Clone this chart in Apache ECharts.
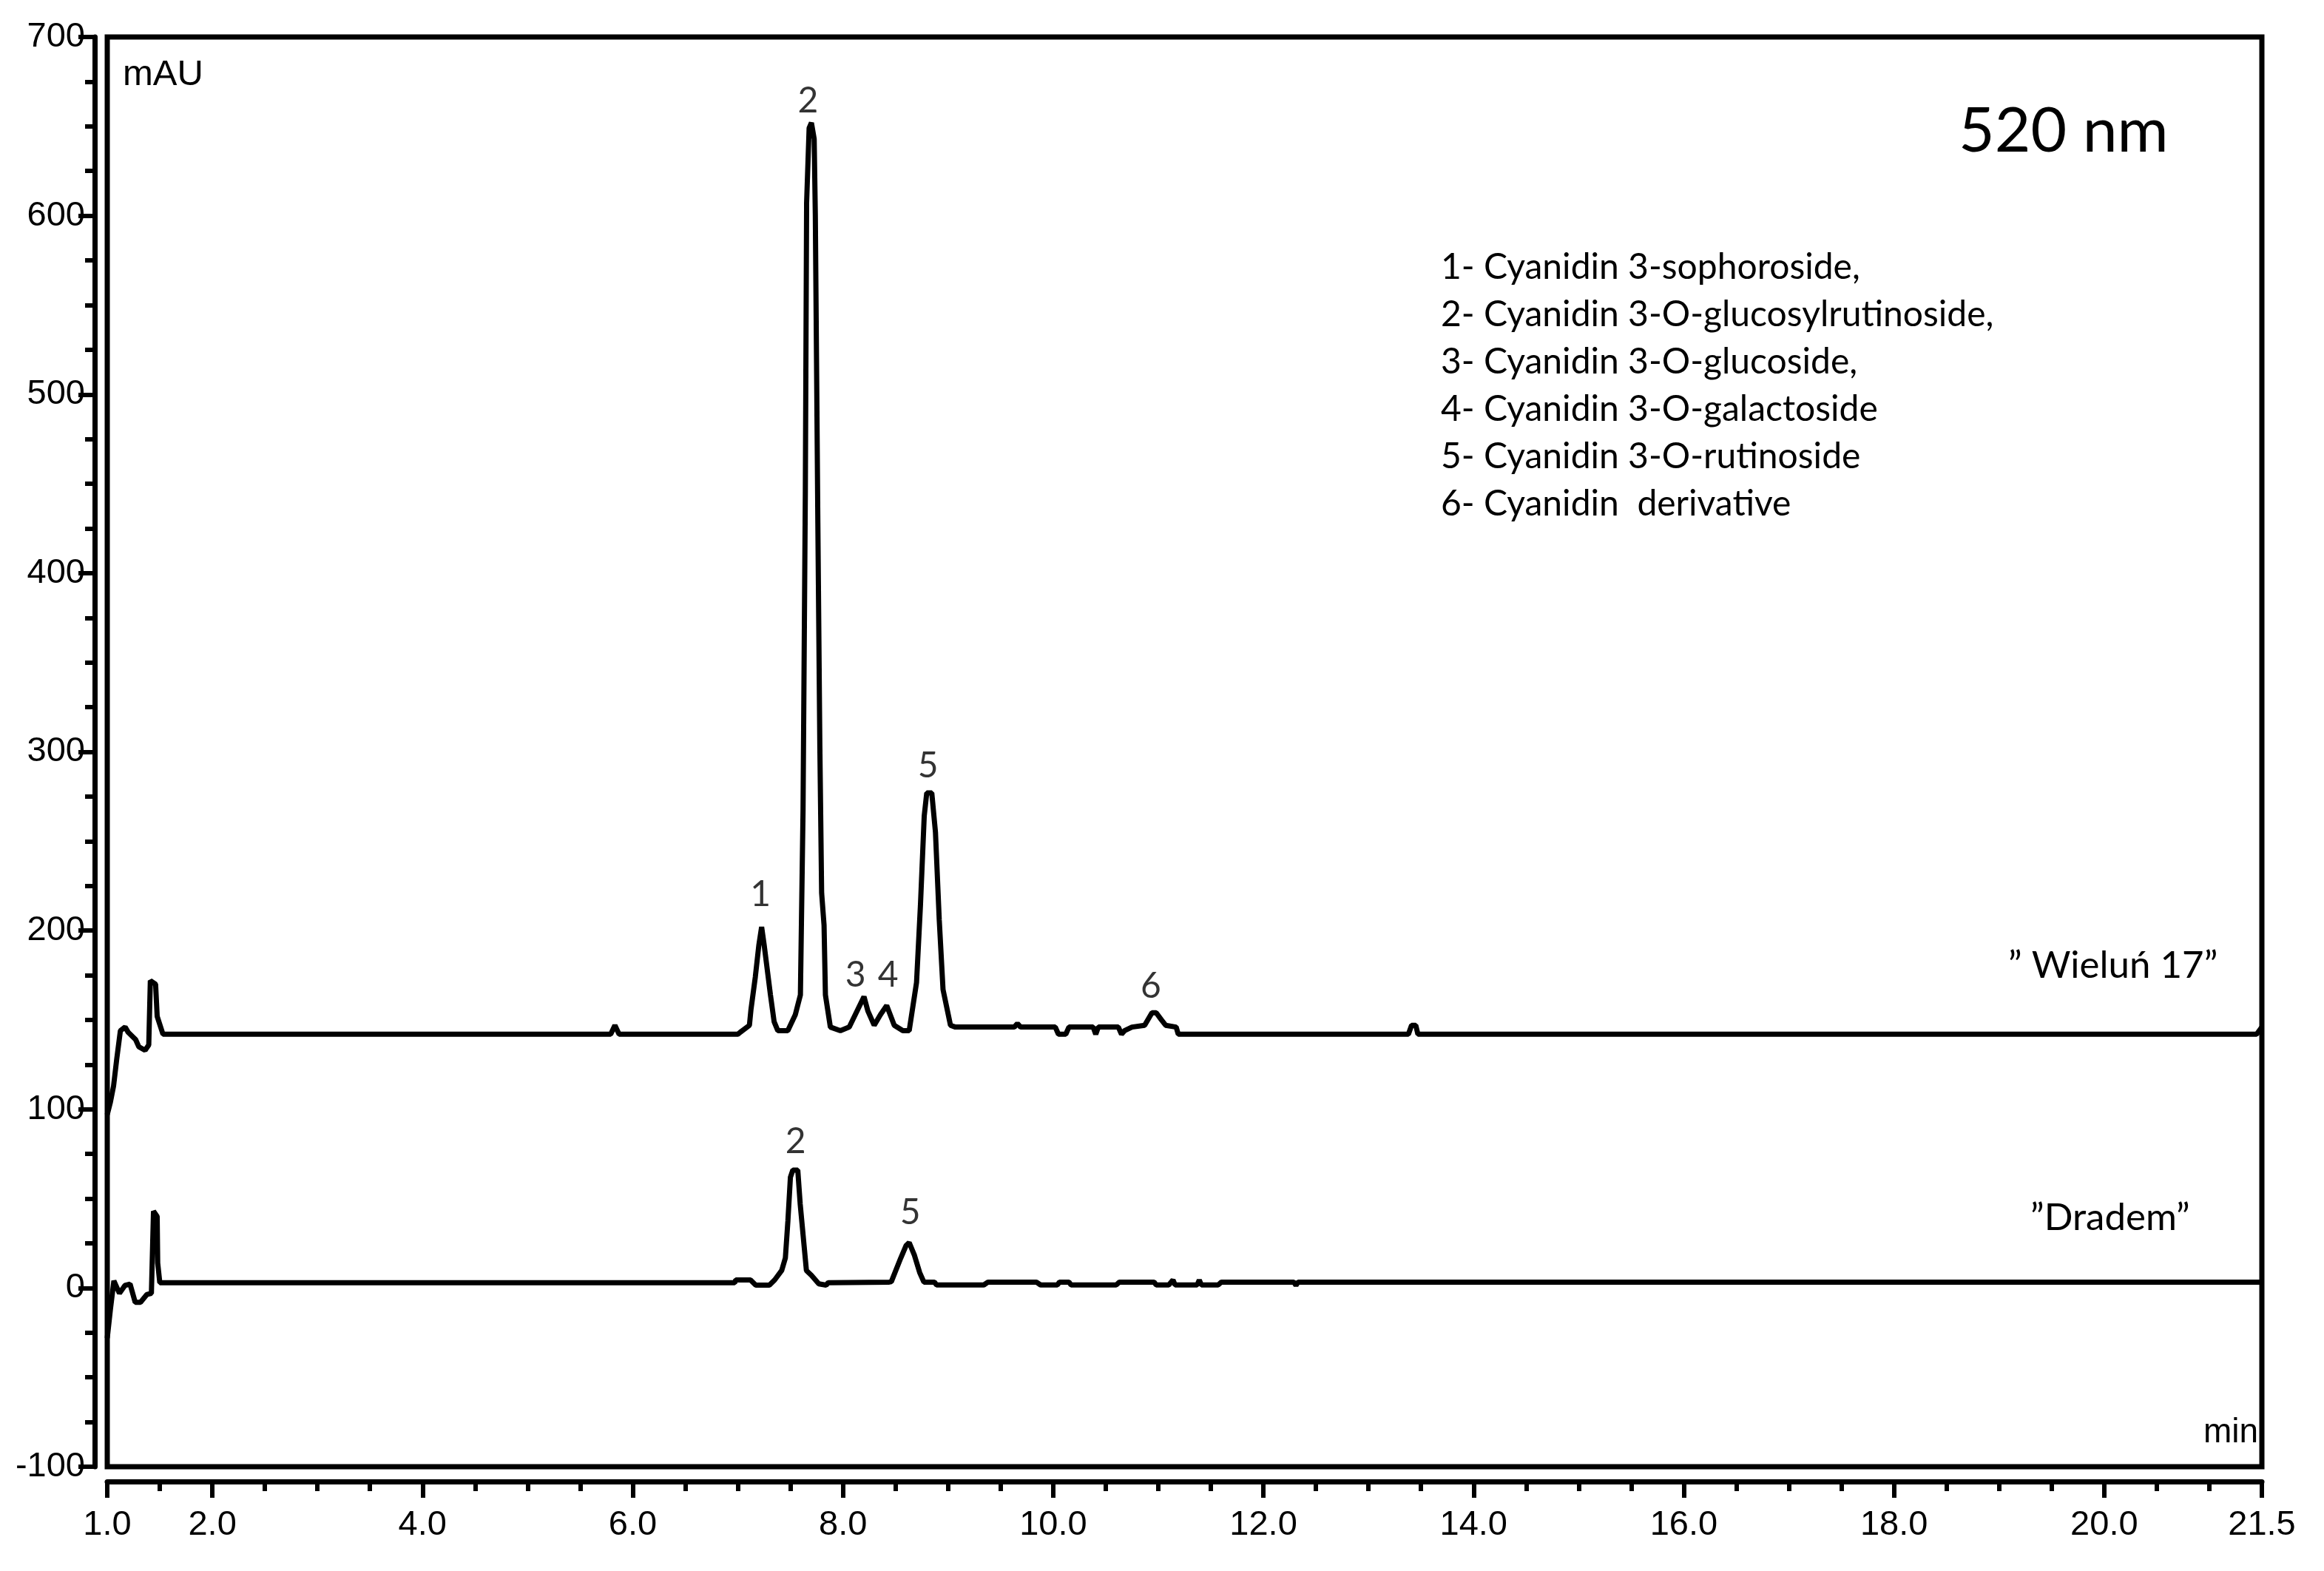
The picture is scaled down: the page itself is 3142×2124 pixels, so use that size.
<!DOCTYPE html>
<html>
<head>
<meta charset="utf-8">
<script src="https://cdn.jsdelivr.net/npm/echarts@6/dist/echarts.min.js"></script>
<style>html,body{margin:0;padding:0;background:#fff}#c{width:3142px;height:2124px}</style>
</head>
<body>
<div id="c"></div>
<script>
// ---- data ----
const xTickLabels = [1, 2, 4, 6, 8, 10, 12, 14, 16, 18, 20, 21.5];

const wielunT = [1.00,1.03,1.06,1.09,1.125,1.17,1.20,1.27,1.30,1.36,1.395,1.41,1.46,1.475,1.53,
  5.79,5.83,5.87,7.00,7.02,7.11,7.125,7.166,7.20,7.226,7.25,7.31,7.345,7.38,7.475,7.547,7.595,
  7.62,7.642,7.654,7.678,7.70,7.726,7.737,7.761,7.78,7.797,7.82,7.833,7.88,7.975,8.06,8.142,8.20,
  8.237,8.297,8.357,8.416,8.488,8.57,8.63,8.70,8.737,8.773,8.797,8.845,8.88,8.916,8.952,9.023,9.07,
  9.63,9.66,9.69,10.02,10.05,10.12,10.15,10.38,10.405,10.43,10.62,10.65,10.68,10.75,10.87,10.94,
  10.98,11.03,11.07,11.17,11.19,13.38,13.41,13.45,13.47,21.45,21.5];
const wielunV = [97,104,113,128,144,146,143,139,135,133,136,172,170,152,142,
  142,147,142,142,143,147,156,174,192,202,192,164,149,144,144,153,164,
  267,446,607,649,652,643,600,428,303,221,203,164,146,144,146,156,163,
  155,147,153,158,147,144,144,171,214,264,277,277,255,206,167,147,146,
  146,148,146,146,142,142,146,146,142,146,146,142,144,146,147,154,
  154,150,147,146,142,142,147,147,142,142,146];

const dradT = [1.00,1.03,1.063,1.116,1.168,1.217,1.266,1.316,1.378,1.42,1.44,1.475,1.48,1.50,1.535,
  6.97,6.98,7.12,7.17,7.30,7.35,7.417,7.452,7.476,7.50,7.523,7.57,7.593,7.63,7.652,7.70,7.77,7.84,7.86,
  8.44,8.46,8.55,8.60,8.63,8.68,8.73,8.77,8.87,8.89,9.34,9.38,9.84,9.88,10.04,10.06,10.15,10.17,
  10.60,10.63,10.96,10.98,11.10,11.14,11.16,11.37,11.39,11.41,11.57,11.60,12.29,12.31,12.33,21.5];
const dradV = [-28,-12,4,-3,1.4,2.2,-8,-8,-3.6,-3,43,40,14,3,3,
  3,4.5,4.5,1.6,1.6,4.5,9.8,16.8,37.5,62,66,66,47,23.7,9.8,7.1,2.3,1.6,3.0,
  3.3,3.5,16.8,23.7,25.4,18.3,8.6,3.3,3.3,1.7,1.7,3.3,3.3,1.7,1.7,3.3,3.3,1.7,
  1.7,3.3,3.3,1.7,1.7,4.5,1.7,1.7,4.5,1.7,1.7,3.3,3.3,1.5,3.3,3.3];

const peakNames = ['2','1','3','4','5','6','2','5'];
const peakT     = [7.667,7.215,8.12,8.43,8.81,10.93,7.55,8.64];
const peakLabelV= [664,220,175,175,292,169,82,42];

const compoundList = [
  '1- Cyanidin 3-sophoroside,',
  '2- Cyanidin 3-O-glucosylrutinoside,',
  '3- Cyanidin 3-O-glucoside,',
  '4- Cyanidin 3-O-galactoside',
  '5- Cyanidin 3-O-rutinoside',
  '6- Cyanidin  derivative'
];
const sampleNames = ['\u201D Wielu\u0144 17\u201D', '\u201DDradem\u201D'];
const wavelengthText = '520 nm';
const yUnit = 'mAU', xUnit = 'min';

// ---- build ----
const pairs = (t, v) => t.map((x, i) => [x, v[i]]);
const tickFont = 'Liberation Sans';
const textFont = 'Lato';

const chart = echarts.init(document.getElementById('c'), null, {renderer: 'canvas'});
chart.setOption({
  animation: false,
  backgroundColor: '#fff',
  grid: {left: 145, right: 84, top: 50, bottom: 141, show: true, borderColor: '#000', borderWidth: 7, backgroundColor: 'transparent'},
  xAxis: [{
    type: 'value', min: 1, max: 21.5, interval: 0.5, position: 'bottom', offset: 20,
    axisLine: {show: true, onZero: false, lineStyle: {color: '#000', width: 7}},
    axisTick: {show: true, length: 22, lineStyle: {color: '#000', width: 6}, customValues: xTickLabels},
    axisLabel: {show: true, customValues: xTickLabels, formatter: v => v.toFixed(1), color: '#000',
      fontFamily: tickFont, fontSize: 47, margin: 36},
    splitLine: {show: false}
  }, {
    type: 'value', min: 1, max: 21.5, interval: 0.5, position: 'bottom', offset: 20,
    axisLine: {show: false, onZero: false},
    axisTick: {show: true, length: 13, lineStyle: {color: '#000', width: 6}},
    axisLabel: {show: false},
    splitLine: {show: false}
  }],
  yAxis: [{
    type: 'value', min: -100, max: 700, interval: 100, offset: 17,
    axisLine: {show: true, onZero: false, lineStyle: {color: '#000', width: 7}},
    axisTick: {show: true, length: 22, lineStyle: {color: '#000', width: 6}},
    minorTick: {show: true, splitNumber: 4, length: 13, lineStyle: {color: '#000', width: 6}},
    axisLabel: {color: '#000', fontFamily: tickFont, fontSize: 47, margin: 13},
    splitLine: {show: false}, minorSplitLine: {show: false}
  }],
  series: [{
    type: 'line', xAxisIndex: 0, data: pairs(wielunT, wielunV), showSymbol: false, symbol: 'none',
    lineStyle: {color: '#000', width: 7}, z: 3
  }, {
    type: 'line', xAxisIndex: 0, data: pairs(dradT, dradV), showSymbol: false, symbol: 'none',
    lineStyle: {color: '#000', width: 7}, z: 3
  }, {
    type: 'scatter', xAxisIndex: 0, symbolSize: 1, itemStyle: {color: 'rgba(0,0,0,0)'},
    data: peakNames.map((n, i) => ({name: n, value: [peakT[i], peakLabelV[i]]})),
    label: {show: true, position: 'inside', formatter: '{b}', color: '#000', fontFamily: textFont, fontSize: 48},
    z: 4
  }],
  graphic: [
    {type: 'text', style: {x: 166, y: 101, text: yUnit, font: '49px "Liberation Sans"', fill: '#000', textVerticalAlign: 'middle'}},
    {type: 'text', style: {x: 3053, y: 1937, text: xUnit, font: '46px "Liberation Sans"', fill: '#000', textAlign: 'right', textVerticalAlign: 'middle'}},
    {type: 'text', style: {x: 2648, y: 178, text: wavelengthText, font: '84px Lato', fill: '#000', textVerticalAlign: 'middle'}},
    {type: 'text', style: {x: 1948, y: 330, text: compoundList.join('\n'), font: '48px Lato', lineHeight: 64, fill: '#000', textVerticalAlign: 'top'}},
    {type: 'text', style: {x: 2715, y: 1306, text: sampleNames[0], font: '51px Lato', fill: '#000', textVerticalAlign: 'middle'}},
    {type: 'text', style: {x: 2745, y: 1647, text: sampleNames[1], font: '51px Lato', fill: '#000', textVerticalAlign: 'middle'}}
  ]
});
</script>
</body>
</html>
